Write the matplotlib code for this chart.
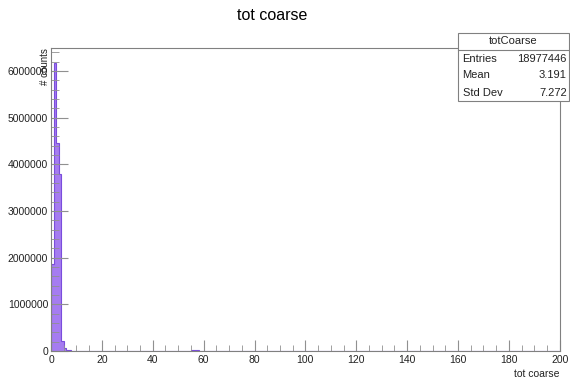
import numpy as np
import matplotlib
matplotlib.use("Agg")
import matplotlib.pyplot as plt
from matplotlib.ticker import MultipleLocator, FuncFormatter

plt.rcParams["font.family"] = ["Liberation Sans", "DejaVu Sans"]

# histogram contents (bin width 1, range 0-200)
bin_edges = np.arange(0, 201, 1)
bin_counts = np.zeros(200)
first_bins = [1870000, 6180000, 4450000, 3790000, 220000, 60000, 25000, 12000]
bin_counts[:len(first_bins)] = first_bins
tail_bins = [55, 56, 57]
tail_counts = [15000, 30000, 15000]
bin_counts[tail_bins] = tail_counts

stats_title = "totCoarse"
stats_rows = [("Entries", "18977446"), ("Mean", "3.191"), ("Std Dev", "7.272")]

fig = plt.figure(figsize=(5.7, 3.79), dpi=100)
ax = fig.add_axes([0.0895, 0.074, 0.8925, 0.799])

ax.stairs(bin_counts, bin_edges, fill=True, facecolor="#a57cf0",
          edgecolor="#7a4ddc", linewidth=0.8)

ax.set_xlim(0, 200)
ax.set_ylim(0, 6.49e6)

for s in ax.spines.values():
    s.set_color("#808080")
    s.set_linewidth(0.8)

ax.xaxis.set_major_locator(MultipleLocator(20))
ax.xaxis.set_minor_locator(MultipleLocator(5))
ax.yaxis.set_major_locator(MultipleLocator(1e6))
ax.yaxis.set_minor_locator(MultipleLocator(2e5))
ax.yaxis.set_major_formatter(FuncFormatter(lambda v, p: f"{int(v)}"))
ax.tick_params(which="both", direction="in", colors="#909090",
               labelcolor="#222222", labelsize=7.5)
ax.tick_params(axis="x", which="major", length=8, pad=3)
ax.tick_params(axis="x", which="minor", length=4)
ax.tick_params(axis="y", which="major", length=12, pad=2)
ax.tick_params(axis="y", which="minor", length=6)

ax.set_xlabel("tot coarse", fontsize=7.5, color="#222222", loc="right", labelpad=3)
ax.set_ylabel("# counts", fontsize=7, color="#222222", loc="top", labelpad=-30)

fig.text(0.477, 0.958, "tot coarse", ha="center", va="center", fontsize=11.5)

# stats box
x0, x1 = 458 / 570, 569 / 570
y_top, y_sep, y_bot = 1 - 33 / 379, 1 - 50 / 379, 1 - 101 / 379
fig.patches.append(plt.Rectangle((x0, y_bot), x1 - x0, y_top - y_bot,
                                 transform=fig.transFigure, facecolor="white",
                                 edgecolor="#808080", linewidth=0.8))
fig.add_artist(plt.Line2D([x0, x1], [y_sep, y_sep], transform=fig.transFigure,
                          color="#808080", linewidth=0.8))
fig.text((x0 + x1) / 2, (y_top + y_sep) / 2, stats_title, ha="center",
         va="center", fontsize=8, color="#222222")
row_h = (y_sep - y_bot) / len(stats_rows)
for i, (name, val) in enumerate(stats_rows):
    yy = y_sep - row_h * (i + 0.5)
    fig.text(x0 + 0.008, yy, name, ha="left", va="center", fontsize=8,
             color="#222222")
    fig.text(x1 - 0.004, yy, val, ha="right", va="center", fontsize=8,
             color="#222222")

fig.savefig("out.png", dpi=100)
